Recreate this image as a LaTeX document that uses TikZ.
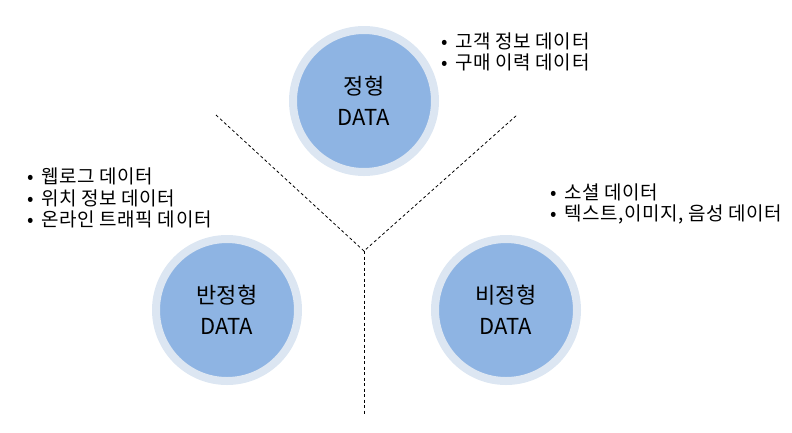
\documentclass[tikz,border=0pt]{standalone}
\usepackage{fontspec}
\setmainfont{Noto Sans CJK KR}
\newfontfamily\listfont[LetterSpace=3]{Noto Sans CJK KR}
\definecolor{ringc}{HTML}{DCE6F2}
\definecolor{fillc}{HTML}{8EB4E3}
\tikzset{
  datacircle/.style={circle, minimum size=142pt, inner sep=0pt, line width=8pt, draw=ringc, fill=fillc, align=center, font=\fontsize{22}{31}\selectfont},
  blist/.style={anchor=north west, inner sep=0pt, align=left, font=\listfont\fontsize{19}{21.5}\selectfont},
  divider/.style={dash pattern=on 3pt off 2.5pt, line width=0.8pt, black}
}
\newcommand{\bitem}[1]{\makebox[14pt][l]{•}#1}
\begin{document}
\begin{tikzpicture}[x=1pt,y=-1pt]
\useasboundingbox (0,0) rectangle (792,432);
\node[datacircle] (s) at (364,101) {정형\\DATA};
\node[datacircle] (semi) at (227,310) {반정형\\DATA};
\node[datacircle] (un) at (506,310) {비정형\\DATA};
\node[blist] (ls) at (441,32.5) {\bitem{고객 정보 데이터}\\\bitem{구매 이력 데이터}};
\node[blist] (lsemi) at (27,168) {\bitem{웹로그 데이터}\\\bitem{위치 정보 데이터}\\\bitem{온라인 트래픽 데이터}};
\node[blist] (lun) at (550,183.5) {\bitem{소셜 데이터}\\\bitem{텍스트,이미지, 음성 데이터}};
\coordinate (j) at (364,251);
\coordinate (a) at (216,115);
\coordinate (b) at (517,115);
\coordinate (c) at (364,415);
\draw[divider] (a) -- (j) -- (b);
\draw[divider] (j) -- (c);
\end{tikzpicture}
\end{document}
